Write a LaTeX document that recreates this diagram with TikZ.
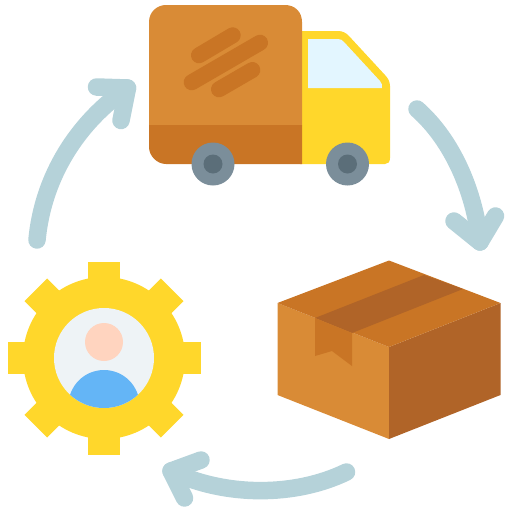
\documentclass[tikz,border=0pt]{standalone}
\definecolor{boxL}{HTML}{D98B36}
\definecolor{boxM}{HTML}{C97525}
\definecolor{boxD}{HTML}{B06428}
\definecolor{cabY}{HTML}{FFD72B}
\definecolor{glassC}{HTML}{E3F6FF}
\definecolor{tyre}{HTML}{7B8E9A}
\definecolor{hubC}{HTML}{5B6E79}
\definecolor{arrowC}{HTML}{B5D2D9}
\definecolor{faceC}{HTML}{FFD4BF}
\definecolor{bodyC}{HTML}{64B5F6}
\definecolor{discC}{HTML}{EEF3F6}
\tikzset{
  cyc/.style={draw=arrowC,line width=17.5pt,line cap=round,line join=round},
  tape/.style={draw=boxM,line width=16pt,line cap=round},
}
\begin{document}
\begin{tikzpicture}[x=1pt,y=-1pt,line width=0pt]
\useasboundingbox (0,0) rectangle (512,512);
% truck
\fill[cabY] (300,31) -- (338,31) .. controls (343,31) and (346,33) .. (349,36) -- (385,75) .. controls (388,78) and (390,82) .. (390,86) -- (390,158) .. controls (390,162) and (388,164) .. (385,164) -- (300,164) -- cycle;
\fill[glassC] (308,39) -- (338,39) .. controls (341,39) and (342,40) .. (344,42) -- (380,81) .. controls (382,83) and (382,85) .. (382,88) -- (308,88) -- cycle;
\fill[boxL] (149,125) -- (149,22) .. controls (149,12) and (157,5) .. (166,5) -- (285,5) .. controls (295,5) and (302,12) .. (302,22) -- (302,125) -- cycle;
\fill[boxM] (149,125) -- (302,125) -- (302,164) -- (166,164) .. controls (157,164) and (149,156) .. (149,147) -- cycle;
\draw[tape] (199,55.3) -- (232.7,35.3);
\draw[tape] (191.7,82.3) -- (260,42.7);
\draw[tape] (219,89.3) -- (252.3,70);
\fill[tyre] (213,164) circle (21.5);
\fill[hubC] (213,164) circle (9.5);
\fill[tyre] (347.5,164) circle (21.5);
\fill[hubC] (347.5,164) circle (9.5);
% box
\fill[boxL] (277.5,303) -- (389,347) -- (389,439) -- (277.5,395) -- cycle;
\fill[boxD] (389,347) -- (500.5,303) -- (500.5,395) -- (389,439) -- cycle;
\fill[boxM] (277.5,303) -- (389,260.5) -- (500.5,303) -- (389,347) -- cycle;
\fill[boxD] (315,318) -- (424,275) -- (463,289) -- (352,333) -- cycle;
\fill[boxM] (315,318) -- (352,333) -- (352,366) -- (332,351) -- (315,356) -- cycle;
% gear
\fill[cabY] (104,358) circle (81);
\foreach \a in {0,45,...,315}{
  \fill[cabY,rotate around={\a:(104,358)}] (88,261.5) rectangle (120,300);
}
\fill[discC] (104,358) circle (50);
\begin{scope}
  \clip (104,358) circle (50);
  \fill[bodyC] (68,408) .. controls (68,385) and (85,370) .. (104,370) .. controls (123,370) and (140,385) .. (140,408) -- cycle;
\end{scope}
\fill[faceC] (104,342) circle (19);
% arrows
\coordinate (a1s) at (37,240);
\coordinate (a1e) at (127.5,88);
\draw[cyc] (a1s) .. controls (43,176) and (78,122) .. (a1e);
\draw[cyc] (96.5,87) -- (a1e) -- (121,120.5);
\coordinate (a2s) at (417,109);
\coordinate (a2e) at (480,242);
\draw[cyc] (a2s) .. controls (452,140) and (474,190) .. (a2e);
\draw[cyc] (454,221) -- (a2e) -- (495.5,216);
\coordinate (a3s) at (346.5,472);
\coordinate (a3e) at (171,471);
\draw[cyc] (a3s) .. controls (295,497) and (225,497) .. (a3e);
\draw[cyc] (201,460) -- (a3e) -- (184.5,498);
\end{tikzpicture}
\end{document}
